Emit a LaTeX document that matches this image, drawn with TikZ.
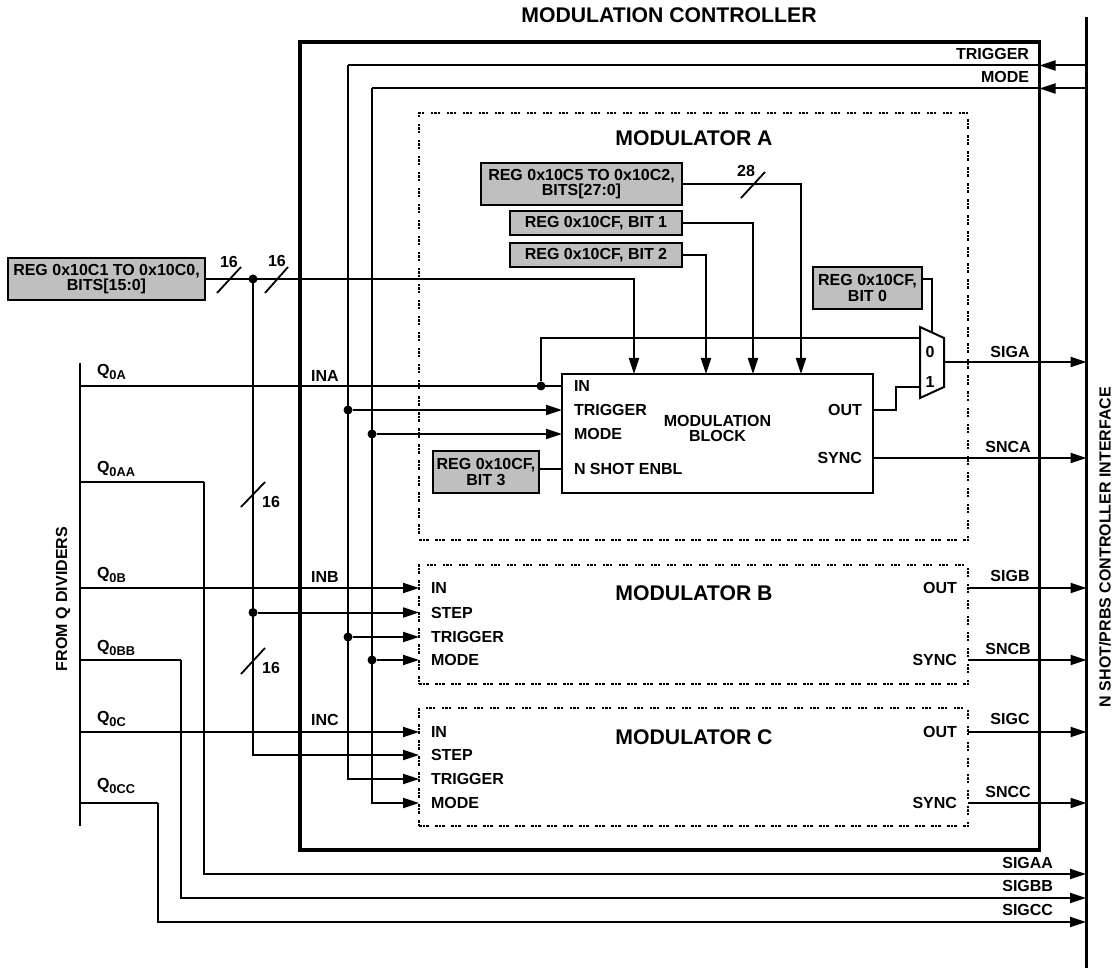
\documentclass[tikz,border=0pt]{standalone}
\usepackage{fontspec}
\setmainfont{Liberation Sans}
\usetikzlibrary{arrows.meta}
\definecolor{reggray}{RGB}{191,191,191}
\newcommand{\qsub}[1]{Q\raisebox{-3.5pt}{\fontsize{12.8}{13}\selectfont #1}}

\begin{document}
\begin{tikzpicture}[x=1pt, y=-1pt,
    lbl/.style={inner sep=0pt, outer sep=0pt, font=\fontsize{16}{15.7}\selectfont\bfseries, align=center},
    bigl/.style={inner sep=0pt, outer sep=0pt, font=\fontsize{21.2}{22}\selectfont\bfseries},
    regbox/.style={draw, line width=2pt, fill=reggray, inner sep=0pt, outer sep=0pt, font=\fontsize{16}{15.7}\selectfont\bfseries, align=center},
    modbox/.style={draw, line width=2pt, inner sep=0pt, outer sep=0pt, dash pattern=on 2.5pt off 1pt on 2.5pt off 1pt on 2.5pt off 6.5pt},
    wire/.style={line width=2pt},
    sig/.style={line width=2pt, -{Triangle[length=16pt,width=10pt]}},
    junc/.style={circle, fill=black, inner sep=0pt, outer sep=0pt, minimum size=9pt},
    slash/.style={line width=1.8pt}]
    \useasboundingbox (0,0) rectangle (1117,968);

    % Outer box and the two buses
    \node[draw, line width=3.4pt, inner sep=0pt, outer sep=0pt, minimum width=739.5pt, minimum height=808pt] (ctrl) at (669.75,446) {};
    \node[bigl] (ctrlname) at (669,15) {MODULATION CONTROLLER};
    \coordinate (rbustop) at (1086.5,17);
    \coordinate (rbusend) at (1086.5,968);
    \draw[line width=2.6pt] (rbustop) -- (rbusend);
    \coordinate (qbustop) at (79.5,363);
    \coordinate (qbusend) at (79.5,826);
    \draw[wire] (qbustop) -- (qbusend);
    \node[lbl, rotate=90] (ifname) at (1105,547) {N SHOT/PRBS CONTROLLER INTERFACE};
    \node[lbl, rotate=90] (qname) at (63,599) {FROM Q DIVIDERS};

    % Modulator boxes
    \node[modbox, minimum width=549pt, minimum height=427pt] (moda) at (693.5,326.5) {};
    \node[modbox, minimum width=549pt, minimum height=119pt] (modb) at (693.5,624.5) {};
    \node[modbox, minimum width=549pt, minimum height=118pt] (modc) at (693.5,767) {};
    \node[bigl] (modaname) at (694,138) {MODULATOR A};
    \node[bigl] (modbname) at (694,593) {MODULATOR B};
    \node[bigl] (modcname) at (694,737) {MODULATOR C};

    % Modulation block and register boxes
    \node[draw, line width=2pt, inner sep=0pt, outer sep=0pt, minimum width=311pt, minimum height=119pt] (block) at (717.5,433.5) {};
    \node[lbl] (blockname) at (717.5,428.5) {MODULATION\\BLOCK};
    \node[regbox, minimum width=197pt, minimum height=42pt] (regstep) at (106.5,279) {REG 0x10C1 TO 0x10C0,\\BITS[15:0]};
    \node[regbox, minimum width=201pt, minimum height=42pt] (regword) at (581.5,184) {REG 0x10C5 TO 0x10C2,\\BITS[27:0]};
    \node[regbox, minimum width=172pt, minimum height=24pt] (regone) at (596,223.5) {REG 0x10CF, BIT 1};
    \node[regbox, minimum width=172pt, minimum height=24pt] (regtwo) at (596,255) {REG 0x10CF, BIT 2};
    \node[regbox, minimum width=109pt, minimum height=42pt] (regzero) at (867.5,288) {REG 0x10CF,\\BIT 0};
    \node[regbox, minimum width=106pt, minimum height=42pt] (regthree) at (486,472) {REG 0x10CF,\\BIT 3};

    % Pin labels
    \node[lbl, anchor=west] (aina) at (574,386) {IN};
    \node[lbl, anchor=west] (atrig) at (574,410) {TRIGGER};
    \node[lbl, anchor=west] (amode) at (574,434) {MODE};
    \node[lbl, anchor=west] (ashot) at (574,469) {N SHOT ENBL};
    \node[lbl, anchor=east] (aout) at (862,410) {OUT};
    \node[lbl, anchor=east] (async) at (862,458) {SYNC};
    \node[lbl, anchor=west] (bin) at (431,588) {IN};
    \node[lbl, anchor=west] (bstep) at (431,612.5) {STEP};
    \node[lbl, anchor=west] (btrig) at (431,637) {TRIGGER};
    \node[lbl, anchor=west] (bmode) at (431,660) {MODE};
    \node[lbl, anchor=east] (bout) at (957,588) {OUT};
    \node[lbl, anchor=east] (bsync) at (957,660) {SYNC};
    \node[lbl, anchor=west] (cin) at (431,732) {IN};
    \node[lbl, anchor=west] (cstep) at (431,755) {STEP};
    \node[lbl, anchor=west] (ctrig) at (431,779) {TRIGGER};
    \node[lbl, anchor=west] (cmode) at (431,803) {MODE};
    \node[lbl, anchor=east] (cout) at (957,732) {OUT};
    \node[lbl, anchor=east] (csync) at (957,803) {SYNC};

    % Multiplexer
    \coordinate (muxa) at (920,327);
    \coordinate (muxb) at (944,338);
    \coordinate (muxc) at (944,387);
    \coordinate (muxd) at (920,398);
    \coordinate (muxzero) at (920,338);
    \coordinate (muxone) at (920,387);
    \coordinate (muxsel) at (932,332.5);
    \coordinate (muxout) at (944,362);
    \draw[line width=2pt, fill=white] (muxa) -- (muxb) -- (muxc) -- (muxd) -- cycle;
    \node[lbl] (muxzerotxt) at (930,352) {0};
    \node[lbl] (muxonetxt) at (930,382) {1};

    % Control lines
    \coordinate (trigbus) at (1086,65.5);
    \coordinate (modebus) at (1086,88.5);
    \coordinate (trigtop) at (348,65.5);
    \coordinate (modetop) at (372,88.5);
    \draw[sig] (trigbus) -- (ctrl.east |- trigbus);
    \draw[sig] (modebus) -- (ctrl.east |- modebus);
    \draw[wire] (ctrl.east |- trigbus) -- (trigtop);
    \draw[wire] (ctrl.east |- modebus) -- (modetop);
    \draw[sig] (trigtop) |- (modc.west |- ctrig);
    \draw[sig] (modetop) |- (modc.west |- cmode);
    \node[lbl, anchor=east] (trigname) at (1029,54) {TRIGGER};
    \node[lbl, anchor=east] (modename) at (1029,77) {MODE};
    \node[junc] (jta) at (trigtop |- atrig) {};
    \node[junc] (jma) at (modetop |- amode) {};
    \node[junc] (jtb) at (trigtop |- btrig) {};
    \node[junc] (jmb) at (modetop |- bmode) {};
    \draw[sig] (jta) -- (block.west |- jta);
    \draw[sig] (jma) -- (block.west |- jma);
    \draw[sig] (jtb) -- (modb.west |- jtb);
    \draw[sig] (jmb) -- (modb.west |- jmb);

    % Step word
    \coordinate (stepa) at (634,374);
    \node[junc] (jstep) at (253,279) {};
    \draw[sig] (regstep.east) -| (stepa);
    \draw[sig] (jstep) |- (modc.west |- cstep);
    \node[junc] (jstepb) at (253,612.5) {};
    \draw[sig] (jstepb) -- (modb.west |- jstepb);
    \draw[slash] (217,293) -- (241,267);
    \draw[slash] (265,293) -- (288,267);
    \draw[slash] (241,507) -- (265,482);
    \draw[slash] (241,674) -- (265,648);
    \draw[slash] (741,198) -- (765,172);
    \node[lbl] (widtha) at (229,262) {16};
    \node[lbl] (widthb) at (277,261) {16};
    \node[lbl] (widthc) at (271,501.5) {16};
    \node[lbl] (widthd) at (271,667.5) {16};
    \node[lbl] (widthe) at (746,171) {28};

    % Registers into the block and the mux
    \coordinate (twoin) at (706,374);
    \coordinate (onein) at (753,374);
    \coordinate (wordin) at (801,374);
    \coordinate (zeroout) at (922,279);
    \draw[sig] (regtwo.east) -| (twoin);
    \draw[sig] (regone.east) -| (onein);
    \draw[sig] (regword.east) -| (wordin);
    \draw[wire] (zeroout) -| (muxsel);
    \draw[wire] (regthree.east |- ashot) -- (block.west |- ashot);

    % Q inputs
    \coordinate (qa) at (79.5,386);
    \coordinate (qaa) at (79.5,482);
    \coordinate (qb) at (79.5,588);
    \coordinate (qbb) at (79.5,660);
    \coordinate (qc) at (79.5,732);
    \coordinate (qcc) at (79.5,803);
    \coordinate (qaaturn) at (204,482);
    \coordinate (qbbturn) at (181,660);
    \coordinate (qccturn) at (157.5,803);
    \coordinate (siga) at (1086,874);
    \coordinate (sigb) at (1086,898);
    \coordinate (sigc) at (1086,922);
    \node[junc] (jin) at (541,386) {};
    \coordinate (zerotop) at (541,338);
    \draw[wire] (qa) -- (block.west |- qa);
    \draw[wire] (jin) -- (zerotop) -- (muxzero);
    \draw[sig] (qb) -- (modb.west |- qb);
    \draw[sig] (qc) -- (modc.west |- qc);
    \draw[wire] (qaa) -- (qaaturn);
    \draw[sig] (qaaturn) |- (siga);
    \draw[wire] (qbb) -- (qbbturn);
    \draw[sig] (qbbturn) |- (sigb);
    \draw[wire] (qcc) -- (qccturn);
    \draw[sig] (qccturn) |- (sigc);
    \node[lbl, anchor=west] (qatxt) at (97,372) {\qsub{0A}};
    \node[lbl, anchor=west] (qaatxt) at (97,469) {\qsub{0AA}};
    \node[lbl, anchor=west] (qbtxt) at (97,575) {\qsub{0B}};
    \node[lbl, anchor=west] (qbbtxt) at (97,648) {\qsub{0BB}};
    \node[lbl, anchor=west] (qctxt) at (97,719) {\qsub{0C}};
    \node[lbl, anchor=west] (qcctxt) at (97,786) {\qsub{0CC}};
    \node[lbl] (inatxt) at (325,376) {INA};
    \node[lbl] (inbtxt) at (325,577) {INB};
    \node[lbl] (inctxt) at (325,720) {INC};

    % Outputs
    \coordinate (oneturn) at (896,387);
    \draw[wire] (block.east |- aout) -| (oneturn) -- (muxone);
    \draw[sig] (muxout) -- (rbusend |- muxout);
    \draw[sig] (block.east |- async) -- (rbusend |- async);
    \draw[sig] (modb.east |- bout) -- (rbusend |- bout);
    \draw[sig] (modb.east |- bsync) -- (rbusend |- bsync);
    \draw[sig] (modc.east |- cout) -- (rbusend |- cout);
    \draw[sig] (modc.east |- csync) -- (rbusend |- csync);
    \node[lbl] (sigatxt) at (1010,352) {SIGA};
    \node[lbl] (sncatxt) at (1008,447) {SNCA};
    \node[lbl] (sigbtxt) at (1010,576) {SIGB};
    \node[lbl] (sncbtxt) at (1008,648.5) {SNCB};
    \node[lbl] (sigctxt) at (1010,719) {SIGC};
    \node[lbl] (sncctxt) at (1008,792) {SNCC};
    \node[lbl, anchor=east] (sigaatxt) at (1053,863) {SIGAA};
    \node[lbl, anchor=east] (sigbbtxt) at (1053,886) {SIGBB};
    \node[lbl, anchor=east] (sigcctxt) at (1053,910) {SIGCC};
\end{tikzpicture}
\end{document}
